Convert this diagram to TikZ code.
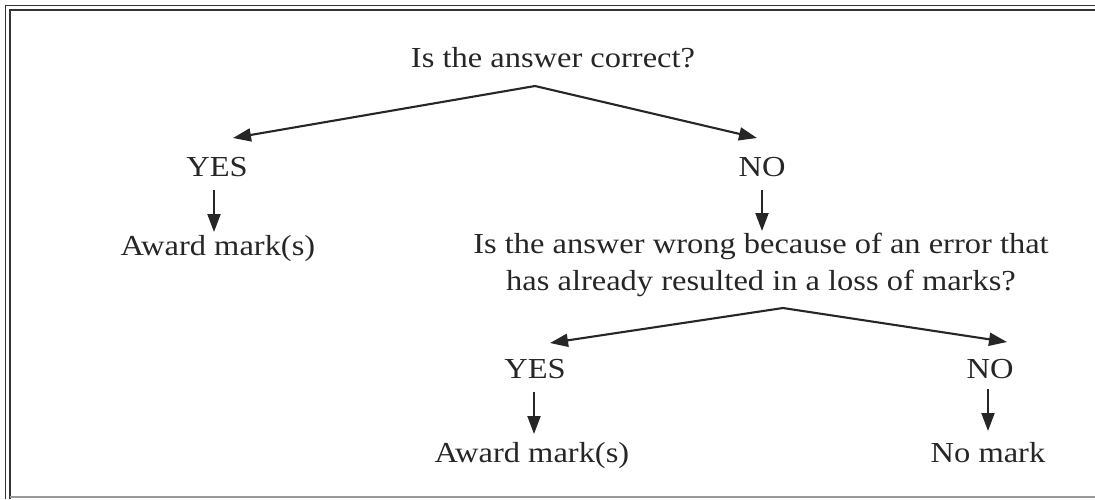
\documentclass[tikz,border=0pt]{standalone}
\usepackage{fontspec}
\setmainfont{Liberation Serif}[FakeStretch=1.12]
\usetikzlibrary{arrows.meta}
\begin{document}
\begin{tikzpicture}[x=1pt,y=-1pt,
  lbl/.style={anchor=base,inner sep=0pt,font=\fontsize{29}{37}\selectfont,text=black!85,align=center},
  arr/.style={line width=2.1pt,draw=black!85,-{Triangle[length=18pt,width=13pt]}},
  frame/.style={draw=black!80}]
\useasboundingbox (0,0) rectangle (1095,499);
% frame
\draw[frame,line width=1.6pt] (5.5,499) -- (5.5,5.5) -- (1095,5.5);
\draw[frame,line width=2pt] (10,499) -- (10,10) -- (1095,10);
\draw[draw=black!40,line width=1.5pt] (10,497) -- (1095,497);
% texts
\node[lbl] (q1) at (553,67) {Is the answer correct?};
\node[lbl] (yes1) at (217,176) {YES};
\node[lbl] (no1) at (762,176) {NO};
\node[lbl] (aw1) at (218,255) {Award mark(s)};
\node[lbl] (q2) at (761,290) {Is the answer wrong because of an error that\\has already resulted in a loss of marks?};
\node[lbl] (yes2) at (535,378) {YES};
\node[lbl] (no2) at (990,378) {NO};
\node[lbl] (aw2) at (532,462) {Award mark(s)};
\node[lbl] (nm) at (988,462) {No mark};
% branch points
\coordinate (a1) at (535,86);
\coordinate (t1l) at (233,138);
\coordinate (t1r) at (757,138);
\coordinate (a2) at (783,308);
\coordinate (t2l) at (550,343);
\coordinate (t2r) at (1007,342);
\draw[arr] (a1) -- (t1l);
\draw[arr] (a1) -- (t1r);
\draw[arr] (a2) -- (t2l);
\draw[arr] (a2) -- (t2r);
% vertical arrows
\draw[arr] (yes1.base) ++(-3,14) coordinate (v1s) (v1s) -- ++(0,42);
\draw[arr] (no1.base) ++(0,14) coordinate (v2s) (v2s) -- ++(0,41);
\draw[arr] (yes2.base) ++(-1,14) coordinate (v3s) (v3s) -- ++(0,42);
\draw[arr] (no2.base) ++(-2,11) coordinate (v4s) (v4s) -- ++(0,42);
\end{tikzpicture}
\end{document}
